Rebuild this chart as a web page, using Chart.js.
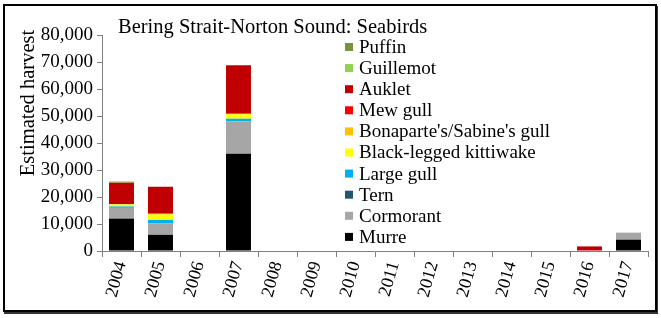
<!DOCTYPE html>
<html><head><meta charset="utf-8">
<script src="https://cdn.jsdelivr.net/npm/chart.js@4/dist/chart.umd.min.js"></script>
<style>
html,body{margin:0;padding:0;background:#fff;}
#wrap{position:relative;width:661px;height:318px;}
#frame{position:absolute;left:3px;top:4px;width:650px;height:304px;border:2px solid #000;box-shadow:1px 2px 0 #333;pointer-events:none;}
canvas{position:absolute;left:0;top:0;}
</style></head>
<body><div id="wrap"><canvas id="c" width="661" height="318"></canvas><div id="frame"></div></div>
<script>
const years = ['2004','2005','2006','2007','2008','2009','2010','2011','2012','2013','2014','2015','2016','2017'];
const murre      = [12000, 6000, 0, 36000, 0,0,0,0,0,0,0,0, 0, 4200];
const cormorant  = [4000, 4200, 0, 12000, 0,0,0,0,0,0,0,0, 0, 2600];
const tern       = [0, 0, 0, 0, 0,0,0,0,0,0,0,0, 0, 0];
const largeGull  = [500, 1300, 0, 1000, 0,0,0,0,0,0,0,0, 0, 0];
const kittiwake  = [700, 2000, 0, 1600, 0,0,0,0,0,0,0,0, 0, 0];
const bonaparte  = [200, 300, 0, 200, 0,0,0,0,0,0,0,0, 0, 0];
const mewGull    = [0, 0, 0, 0, 0,0,0,0,0,0,0,0, 0, 0];
const auklet     = [7900, 10000, 0, 18000, 0,0,0,0,0,0,0,0, 1700, 0];
const guillemot  = [400, 0, 0, 0, 0,0,0,0,0,0,0,0, 0, 0];
const puffin     = [100, 0, 0, 0, 0,0,0,0,0,0,0,0, 0, 0];
const yTicks = [0,10000,20000,30000,40000,50000,60000,70000,80000];

const series = [
  ['Murre', murre, '#000000'],
  ['Cormorant', cormorant, '#A6A6A6'],
  ['Tern', tern, '#215968'],
  ['Large gull', largeGull, '#00B0F0'],
  ['Black-legged kittiwake', kittiwake, '#FFFF00'],
  ["Bonaparte's/Sabine's gull", bonaparte, '#FFC000'],
  ['Mew gull', mewGull, '#FF0000'],
  ['Auklet', auklet, '#C00000'],
  ['Guillemot', guillemot, '#92D050'],
  ['Puffin', puffin, '#77933C']
];

const serif = "'Liberation Serif','Times New Roman',serif";

const decor = {
  id:'decor',
  afterDraw(chart){
    const ctx = chart.ctx;
    ctx.save();
    ctx.fillStyle = '#000';
    ctx.font = '20.5px ' + serif;
    ctx.textAlign = 'left';
    ctx.textBaseline = 'alphabetic';
    ctx.fillText('Bering Strait-Norton Sound: Seabirds', 118, 33);
    ctx.save();
    ctx.translate(29, 103);
    ctx.rotate(-Math.PI/2);
    ctx.textAlign = 'center';
    ctx.textBaseline = 'middle';
    ctx.font = '20.5px ' + serif;
    ctx.fillText('Estimated harvest', 0, 0);
    ctx.restore();
    ctx.font = '19px ' + serif;
    ctx.textBaseline = 'middle';
    const ds = chart.data.datasets.slice().reverse();
    ds.forEach((d,i)=>{
      const y = 47 + i*21.1;
      ctx.fillStyle = d.backgroundColor;
      ctx.fillRect(345, y-4, 8, 8);
      ctx.fillStyle = '#000';
      ctx.fillText(d.label, 359, y+1);
    });
    ctx.restore();
  }
};

new Chart(document.getElementById('c'), {
  type:'bar',
  data:{
    labels: years,
    datasets: series.map(s=>({label:s[0], data:s[1], backgroundColor:s[2], borderWidth:0,
      categoryPercentage:1, barPercentage:0.64}))
  },
  options:{
    responsive:false,
    animation:false,
    devicePixelRatio:1,
    layout:{padding:{top:35,right:13,left:0,bottom:0}},
    plugins:{legend:{display:false}, tooltip:{enabled:false}, title:{display:false}},
    scales:{
      x:{
        stacked:true,
        afterFit(s){ s.height = 67; },
        grid:{offset:true, drawOnChartArea:false, drawTicks:true, tickLength:6, color:'#808080', lineWidth:1},
        border:{display:true, color:'#808080', width:1},
        ticks:{font:{family:serif, size:18}, color:'#000', minRotation:74, maxRotation:74, padding:2, autoSkip:false}
      },
      y:{
        stacked:true,
        min:0, max:80000,
        afterFit(s){ s.width = 102; },
        afterBuildTicks(s){ const t=[]; for(let v=0; v<=80000; v+=5000) t.push({value:v}); s.ticks=t; },
        grid:{drawOnChartArea:false, drawTicks:true, tickLength:5, color:'#808080'},
        border:{display:true, color:'#808080', width:1},
        ticks:{
          font:{family:serif, size:19}, color:'#000', padding:4,
          callback(v){ return yTicks.includes(v) ? v.toLocaleString('en-US') : ''; }
        }
      }
    }
  },
  plugins:[decor]
});
</script>
</body></html>
